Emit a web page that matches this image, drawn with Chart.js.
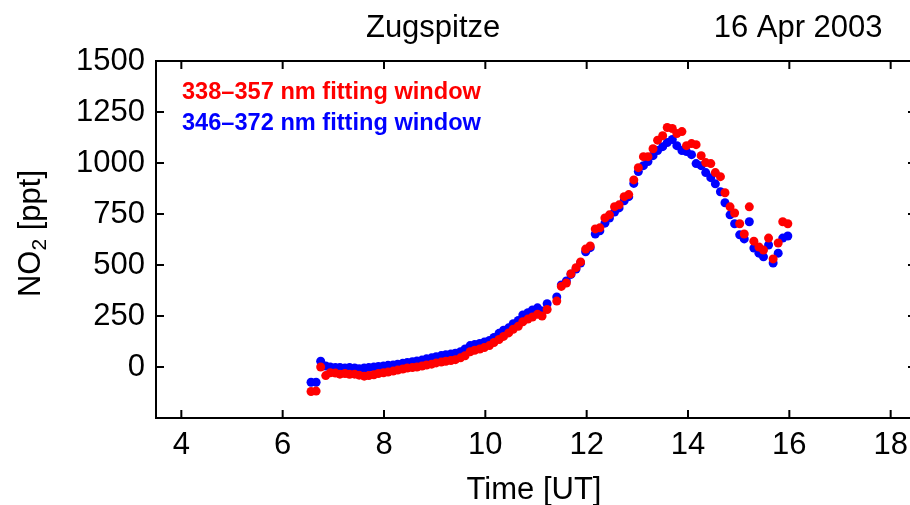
<!DOCTYPE html>
<html>
<head>
<meta charset="utf-8">
<script src="https://cdn.jsdelivr.net/npm/chart.js@4.4.0/dist/chart.umd.min.js"></script>
<style>
  html, body { margin: 0; padding: 0; overflow: hidden; background: #fff; }
  canvas { display: block; }
</style>
</head>
<body>
<canvas id="chart" width="930" height="505"></canvas>
<script>
// measurement times [UT]
const times = [
  6.56, 6.66, 6.75, 6.85, 6.94, 7.04, 7.13, 7.23, 7.32, 7.42,
  7.51, 7.61, 7.70, 7.80, 7.89, 7.99, 8.08, 8.18, 8.27, 8.37,
  8.46, 8.56, 8.65, 8.75, 8.84, 8.94, 9.03, 9.13, 9.22, 9.32,
  9.41, 9.51, 9.60, 9.70, 9.79, 9.89, 9.98, 10.08, 10.17, 10.27,
  10.36, 10.46, 10.55, 10.65, 10.74, 10.84, 10.93, 11.03, 11.12, 11.22,
  11.31, 11.41, 11.50, 11.60, 11.69, 11.79, 11.88, 11.98, 12.07, 12.17,
  12.26, 12.36, 12.45, 12.55, 12.64, 12.74, 12.83, 12.93, 13.02, 13.12,
  13.21, 13.31, 13.40, 13.50, 13.59, 13.69, 13.78, 13.88, 13.97, 14.07,
  14.16, 14.26, 14.35, 14.45, 14.54, 14.64, 14.73, 14.83, 14.92, 15.02,
  15.11, 15.21, 15.30, 15.40, 15.49, 15.59, 15.68, 15.78, 15.87, 15.97
];
// NO2 [ppt], 338-357 nm window
const no2Red = [
  -120, -118, 0, -42, -28, -30, -35, -32, -36, -35,
  -40, -45, -42, -38, -32, -28, -25, -20, -15, -10,
  -5, -3, 0, 5, 10, 14, 20, 24, 28, 32,
  36, 45, 55, 75, 82, 88, 95, 105, 120, 135,
  150, 167, 185, 200, 222, 235, 245, 258, 250, 282,
  null, 323, 395, 412, 457, 487, 515, 578, 593, 677,
  682, 731, 746, 786, 795, 835, 845, 917, 977, 1031,
  1031, 1070, 1112, 1134, 1174, 1169, 1144, 1154, 1085, 1095,
  1090, 1036, 1002, 997, 953, 933, 854, 785, 755, 702,
  652, 785, 617, 588, 573, 632, 530, 608, 712, 702
];
// NO2 [ppt], 346-372 nm window
const no2Blue = [
  -75, -75, 28, 5, 0, -3, -2, -5, -3, -5,
  -8, -5, -3, 0, 3, 5, 8, 10, 14, 18,
  22, 26, 30, 34, 40, 45, 50, 56, 60, 64,
  68, 75, 88, 105, 110, 115, 122, 130, 145, 165,
  180, 192, 212, 228, 255, 266, 280, 290, 274, 310,
  null, 343, 402, 422, 454, 480, 510, 565, 585, 652,
  668, 705, 730, 760, 780, 815, 835, 900, 958, 987,
  1007, 1036, 1061, 1080, 1100, 1115, 1085, 1061, 1056, 1041,
  997, 987, 953, 928, 898, 859, 805, 746, 702, 648,
  628, 712, 583, 558, 540, 598, 510, 558, 632, 642
];
const xTicks = [4, 6, 8, 10, 12, 14, 16, 18];
const yTicks = [0, 250, 500, 750, 1000, 1250, 1500];
const seriesLabels = ['338\u2013357 nm fitting window', '346\u2013372 nm fitting window'];
const titleLeft = 'Zugspitze';
const titleRight = '16 Apr 2003';

const FONT = '"Liberation Sans", Arial, Helvetica, sans-serif';
const BIG = 31;

function toPoints(vals) {
  return times.map((t, i) => ({ x: t, y: vals[i] }));
}

// box, inward ticks, legend text and titles
const frame = {
  id: 'frame',
  afterDraw(chart) {
    const ctx = chart.ctx, a = chart.chartArea;
    const xs = chart.scales.x, ys = chart.scales.y;
    ctx.save();
    ctx.strokeStyle = '#000';
    ctx.lineWidth = 2;
    ctx.beginPath();
    ctx.moveTo(a.left, a.top); ctx.lineTo(a.right, a.top); ctx.lineTo(a.right, a.bottom);
    xTicks.forEach(v => {
      const px = xs.getPixelForValue(v);
      ctx.moveTo(px, a.bottom); ctx.lineTo(px, a.bottom - 8);
      ctx.moveTo(px, a.top); ctx.lineTo(px, a.top + 8);
    });
    yTicks.forEach(v => {
      const py = ys.getPixelForValue(v);
      ctx.moveTo(a.left, py); ctx.lineTo(a.left + 8, py);
      ctx.moveTo(a.right, py); ctx.lineTo(a.right - 8, py);
    });
    ctx.stroke();

    // legend as coloured text
    ctx.font = 'bold 23.6px ' + FONT;
    ctx.textBaseline = 'middle';
    ctx.textAlign = 'left';
    chart.data.datasets.forEach((ds, i) => {
      ctx.fillStyle = ds.backgroundColor;
      ctx.fillText(ds.label, a.left + 26, a.top + 31 + i * 31);
    });

    // titles
    ctx.fillStyle = '#000';
    ctx.font = BIG + 'px ' + FONT;
    ctx.textAlign = 'center';
    ctx.fillText(titleLeft, xs.getPixelForValue(8.97), 28);
    ctx.textAlign = 'right';
    ctx.fillText(titleRight, xs.getPixelForValue(17.84), 28);
    ctx.textAlign = 'center';
    ctx.fillText('Time [UT]', 534, 490);

    // y title with subscript
    ctx.translate(31, (a.top + a.bottom) / 2 - 6);
    ctx.rotate(-Math.PI / 2);
    ctx.textAlign = 'left';
    const big = BIG + 'px ' + FONT, small = '21px ' + FONT;
    ctx.font = big; const w1 = ctx.measureText('NO').width;
    ctx.font = small; const w2 = ctx.measureText('2').width;
    ctx.font = big; const w3 = ctx.measureText(' [ppt]').width;
    let x0 = -(w1 + w2 + w3) / 2;
    ctx.font = big; ctx.fillText('NO', x0, 0);
    ctx.font = small; ctx.fillText('2', x0 + w1, 9);
    ctx.font = big; ctx.fillText(' [ppt]', x0 + w1 + w2, 0);
    ctx.restore();
  }
};

new Chart('chart', {
  type: 'scatter',
  data: {
    datasets: [
      { label: seriesLabels[0], data: toPoints(no2Red), backgroundColor: '#ff0000', pointBorderWidth: 0, pointRadius: 4.5 },
      { label: seriesLabels[1], data: toPoints(no2Blue), backgroundColor: '#0000ff', pointBorderWidth: 0, pointRadius: 4.5 }
    ]
  },
  options: {
    responsive: false,
    animation: false,
    layout: { padding: { top: 61, right: 14, left: 0, bottom: 0 } },
    plugins: { legend: { display: false }, tooltip: { enabled: false } },
    scales: {
      x: {
        type: 'linear', position: 'bottom', min: 3.5, max: 18.5,
        afterBuildTicks: s => { s.ticks = xTicks.map(v => ({ value: v })); },
        afterFit: s => { s.height = 87; },
        grid: { drawOnChartArea: false, drawTicks: false },
        border: { display: true, color: '#000', width: 2 },
        ticks: { color: '#000', font: { family: FONT, size: BIG }, padding: 9, maxRotation: 0,
                 callback: v => String(v) }
      },
      y: {
        type: 'linear', min: -250, max: 1500,
        afterBuildTicks: s => { s.ticks = yTicks.map(v => ({ value: v })); },
        afterFit: s => { s.width = 156; },
        grid: { drawOnChartArea: false, drawTicks: false },
        border: { display: true, color: '#000', width: 2 },
        ticks: { color: '#000', font: { family: FONT, size: BIG }, padding: 11,
                 callback: v => String(v) }
      }
    }
  },
  plugins: [frame]
});
</script>
</body>
</html>
